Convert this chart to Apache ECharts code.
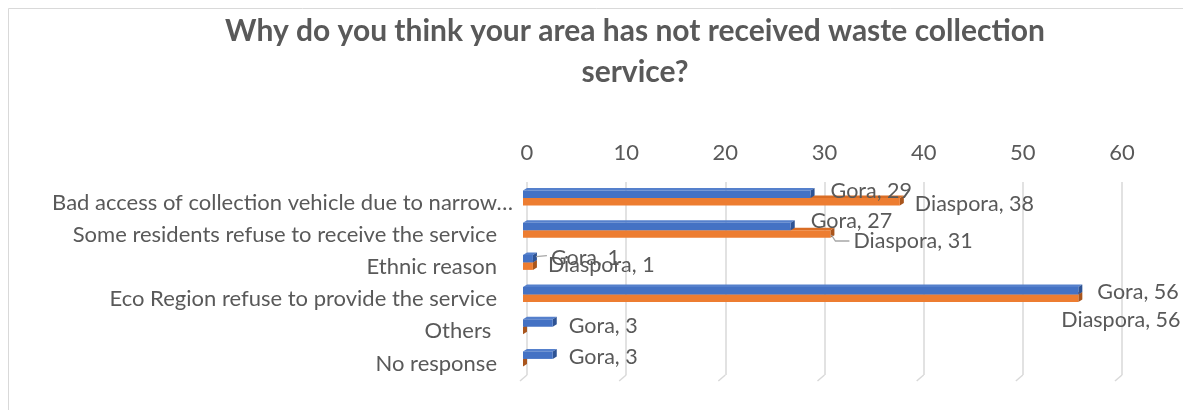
<!DOCTYPE html>
<html><head><meta charset="utf-8">
<script src="https://cdn.jsdelivr.net/npm/echarts@6/dist/echarts.min.js"></script>
<style>html,body{margin:0;padding:0;background:#fff}#c{width:1183px;height:410px}</style>
</head><body><div id="c"></div>
<script>
const titleText = 'Why do you think your area has not received waste collection\nservice?';
const categories = ['Bad access of collection vehicle due to narrow…','Some residents refuse to receive the service','Ethnic reason','Eco Region refuse to provide the service','Others ','No response'];
const seriesNames = ['Gora','Diaspora'];
const gora = [29, 27, 1, 56, 3, 3];
const diaspora = [38, 31, 1, 56, 0, 0];
const xTicks = [0, 10, 20, 30, 40, 50, 60];

// label nudges (dx from bar end, dy from bar centre); null = no label
const goraLabelNudge = [[16,-3],[16,-5],[14,-1],[15,1],[12,3],[12,2]];
const diasporaLabelNudge = [[11,2],[19,7],[11,-1],[-21,22],null,null];
const goraLeader = [false,false,true,false,false,false];
const diasporaLeader = [false,true,false,false,false,false];

const FONT = 'Lato, "Noto Sans", sans-serif';
const TXT = '#595959';
const DX = 4, DY = 2.5;

function bar3D(side, front, top, right, nudges, leaders, name) {
  return function (params, api) {
    const ci = api.value(0), v = api.value(1);
    const p0 = api.coord([0, ci]);
    const p1 = api.coord([v, ci]);
    const band = api.size([0, 1])[1];
    const h = band * 0.31;
    const c = p0[1];
    let bt;
    if (side < 0) bt = c - h; else bt = c - DY;
    const bb = bt + h - DY;
    const xb0 = p0[0], xb1 = p1[0];
    const children = [];
    children.push({type:'polygon', shape:{points:[[xb0-DX,bt+DY],[xb1-DX,bt+DY],[xb1,bt],[xb0,bt]]}, style:{fill:top}});
    children.push({type:'polygon', shape:{points:[[xb1-DX,bt+DY],[xb1,bt],[xb1,bb],[xb1-DX,bb+DY]]}, style:{fill:right}});
    if (xb1 > xb0) children.push({type:'rect', shape:{x:xb0-DX, y:bt+DY, width:xb1-xb0, height:bb-bt}, style:{fill:front}});
    const n = nudges[params.dataIndex];
    if (n) {
      const yc = (bt + bb) / 2 + DY;
      const lx = xb1 + n[0], ly = yc + n[1];
      children.push({type:'text', style:{text: name + ', ' + v, x: lx, y: ly, fill: TXT, font: '21.5px ' + FONT, align:'left', verticalAlign:'middle'}});
      if (leaders[params.dataIndex]) {
        const pts = side < 0
          ? [[xb1 - 1, yc - 2], [lx - 4, ly - 2]]
          : [[xb1 - 3, yc + 1], [xb1 + 1, ly], [lx - 4, ly]];
        children.push({type:'polyline', shape:{points: pts}, style:{stroke:'#A6A6A6', lineWidth:1.3, fill:null}});
      }
    }
    return {type:'group', children};
  };
}

const goraData = gora.map((v, i) => [i, v]);
const diasporaData = diaspora.map((v, i) => [i, v]);

const chart = echarts.init(document.getElementById('c'), null, {renderer:'canvas'});
chart.setOption({
  animation: false,
  backgroundColor: '#fff',
  title: {
    text: titleText, left: 630, top: 6, textAlign: 'center',
    textStyle: {fontFamily: FONT, fontSize: 30, fontWeight: 'bold', color: TXT, lineHeight: 41}
  },
  graphic: [{type:'rect', left: 6, top: 6, shape:{width: 1300, height: 500}, style:{fill:'none', stroke:'#D9D9D9', lineWidth:1}, silent:true, z:-10}],
  grid: {left: 527, right: 61, top: 182, bottom: 35},
  xAxis: {
    type: 'value', position: 'top', min: 0, max: 60, interval: 10,
    axisLine: {show:false}, axisTick: {show:false},
    axisLabel: {color: TXT, fontFamily: FONT, fontSize: 22, margin: 18},
    splitLine: {lineStyle: {color:'#D9D9D9', width: 1.5}}
  },
  yAxis: {
    type: 'category', data: categories, inverse: true,
    axisLine: {show:false}, axisTick: {show:false},
    axisLabel: {
      color: TXT, fontFamily: FONT, fontSize: 22, margin: 14,
      formatter: (val, idx) => idx === 0 ? '{f|' + val + '}' : '{p|' + val + '}',
      rich: {
        f: {color: TXT, fontFamily: FONT, fontSize: 22, padding: [9, 0, 0, 0]},
        p: {color: TXT, fontFamily: FONT, fontSize: 22, padding: [9, 16, 0, 0]}
      }
    }
  },
  series: [
    {type:'custom', name: seriesNames[1], data: diasporaData, encode:{x:1, y:0},
     renderItem: bar3D(1, '#ED7D31', '#D96D25', '#A9551C', diasporaLabelNudge, diasporaLeader, seriesNames[1]), z: 2},
    {type:'custom', name: seriesNames[0], data: goraData, encode:{x:1, y:0},
     renderItem: bar3D(-1, '#4472C4', '#5580CC', '#2E5394', goraLabelNudge, goraLeader, seriesNames[0]), z: 3},
    {type:'custom', name:'floor', data: xTicks.map(v => [v]), encode:{x:0},
     renderItem: function (params, api) {
       const cs = params.coordSys;
       const x = api.coord([api.value(0), 0])[0];
       const yb = cs.y + cs.height;
       return {type:'line', shape:{x1:x, y1:yb, x2:x-7, y2:yb+6}, style:{stroke:'#D9D9D9', lineWidth:1.5}};
     }, z: 1, silent: true}
  ]
});
</script>
</body></html>
